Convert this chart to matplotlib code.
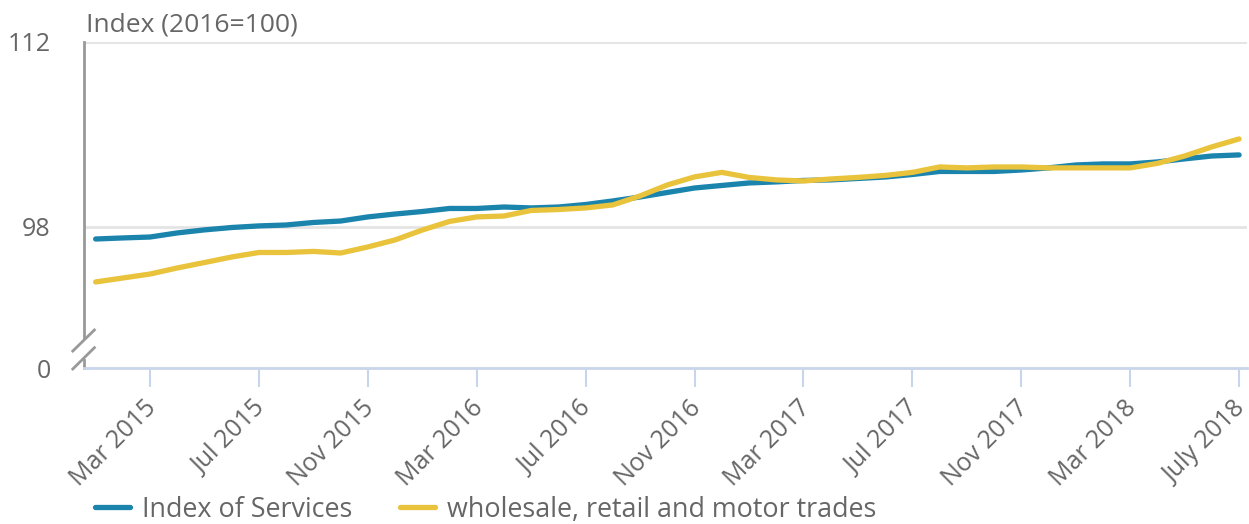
import matplotlib.pyplot as plt
import matplotlib.transforms as mtransforms
import numpy as np

plt.rcParams['font.family'] = ['Open Sans', 'DejaVu Sans']

# monthly, Jan 2015 .. Jul 2018
services = [97.09, 97.17, 97.24, 97.55, 97.78, 97.96, 98.08, 98.15, 98.34, 98.45,
            98.76, 98.98, 99.17, 99.40, 99.40, 99.51, 99.44, 99.51, 99.70, 99.97,
            100.27, 100.61, 100.95, 101.14, 101.33, 101.41, 101.52, 101.56, 101.67, 101.78,
            101.97, 102.20, 102.20, 102.20, 102.31, 102.47, 102.69, 102.77, 102.77, 102.92,
            103.15, 103.37, 103.45]
wholesale = [93.84, 94.14, 94.44, 94.90, 95.31, 95.73, 96.07, 96.07, 96.15, 96.03,
             96.49, 97.02, 97.77, 98.42, 98.76, 98.83, 99.25, 99.32, 99.44, 99.67,
             100.35, 101.18, 101.79, 102.13, 101.75, 101.56, 101.48, 101.63, 101.75, 101.90,
             102.13, 102.54, 102.47, 102.54, 102.54, 102.47, 102.47, 102.47, 102.47, 102.81,
             103.37, 104.06, 104.66]
tick_months = [2, 6, 10, 14, 18, 22, 26, 30, 34, 38, 42]
tick_labels = ['Mar 2015', 'Jul 2015', 'Nov 2015', 'Mar 2016', 'Jul 2016', 'Nov 2016',
               'Mar 2017', 'Jul 2017', 'Nov 2017', 'Mar 2018', 'July 2018']
ytick_vals = [98, 112]

BLUE = '#1b84ad'
YELLOW = '#e8c33b'
TXT = '#666666'

fig = plt.figure(figsize=(12.49, 5.24), dpi=100)
ax = fig.add_axes([0.0673, 0.2977, 0.9313, 0.6223])

months = np.arange(len(services))
y_bottom = 98 - 141 / (185 / 14)  # broken axis: bottom shows as 0

for v in ytick_vals:
    ax.axhline(v, color='#e4e4e4', lw=2, zorder=1)

ax.plot(months, services, color=BLUE, lw=3.8, solid_capstyle='round',
        label='Index of Services', zorder=3)
ax.plot(months, wholesale, color=YELLOW, lw=3.8, solid_capstyle='round',
        label='wholesale, retail and motor trades', zorder=4)

ax.set_xlim(-0.426, 42.3)
ax.set_ylim(y_bottom, 112)

ax.set_yticks([y_bottom] + ytick_vals)
ax.set_yticklabels(['0'] + [str(v) for v in ytick_vals])
ax.tick_params(axis='y', length=0, pad=24, labelsize=18, labelcolor=TXT)

ax.set_xticks(tick_months)
ax.set_xticklabels(tick_labels, rotation=45, ha='right', rotation_mode='anchor')
ax.tick_params(axis='x', length=14, width=1.5, color='#c9d5ea', pad=6,
               labelsize=18, labelcolor=TXT)
shift = mtransforms.ScaledTranslation(-6 / 100, 0, fig.dpi_scale_trans)
for lbl in ax.get_xticklabels():
    lbl.set_transform(lbl.get_transform() + shift)

for s in ['top', 'right', 'left']:
    ax.spines[s].set_visible(False)
ax.spines['bottom'].set_color('#c9d5ea')
ax.spines['bottom'].set_linewidth(2)

# left axis with break marks
gray = '#999999'
ax.plot([0, 0], [0.092, 1], color=gray, lw=2, transform=ax.transAxes, clip_on=False)
ax.plot([0, 0], [0, 0.0245], color=gray, lw=2, transform=ax.transAxes, clip_on=False)
ax.plot([-0.0097, 0.0089], [0.052, 0.1166], color=gray, lw=2,
        transform=ax.transAxes, clip_on=False)
ax.plot([-0.0097, 0.0089], [-0.003, 0.0623], color=gray, lw=2,
        transform=ax.transAxes, clip_on=False)

fig.text(0.0689, 0.94, 'Index (2016=100)', fontsize=19, color=TXT, ha='left', va='baseline')

fig.legend(loc='center left', bbox_to_anchor=(0.076, 0.027), ncol=2, frameon=False,
           fontsize=19.4, labelcolor=TXT, handlelength=1.3, handletextpad=0.45,
           columnspacing=1.75, borderpad=0, borderaxespad=0)

fig.savefig('out.png', dpi=100)
